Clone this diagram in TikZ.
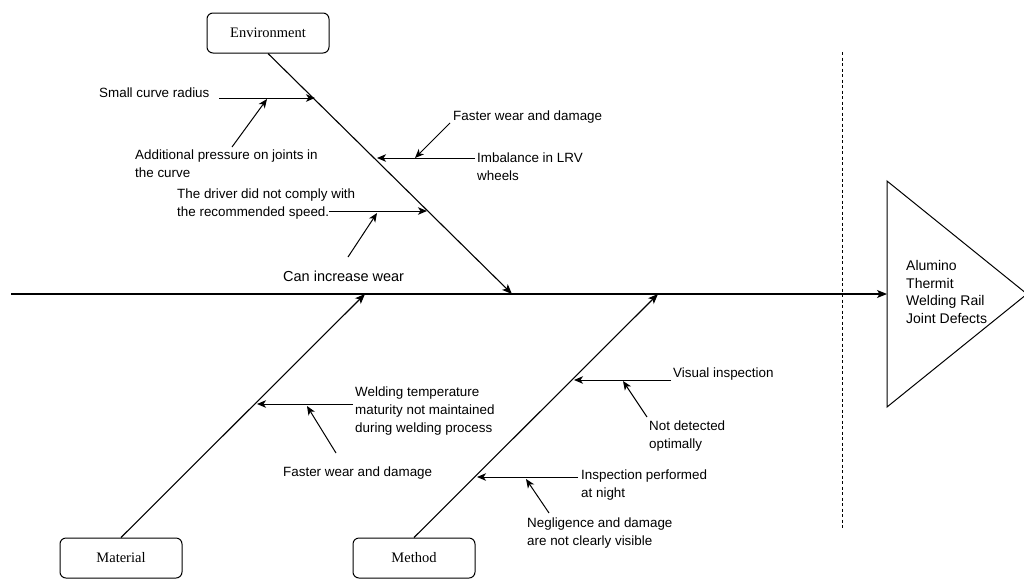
\documentclass[tikz,border=0pt]{standalone}
\usepackage{fontspec}
\setmainfont{Liberation Sans}
\newfontfamily\boxfont{Liberation Serif}
\usetikzlibrary{arrows.meta}
\tikzset{
  catbox/.style={draw, line width=1pt, rounded corners=6pt, minimum width=122pt, minimum height=40pt,
    inner sep=0pt, font=\boxfont\fontsize{14.5}{17}\selectfont},
  cause/.style={anchor=west, align=left, inner sep=0pt, font=\fontsize{13.4}{18}\selectfont},
  bone/.style={line width=1.1pt, -{Stealth[length=10pt,width=8pt,inset=2.5pt]}},
  sub/.style={line width=1pt, -{Stealth[length=9pt,width=7.5pt,inset=2.5pt]}}
}
\begin{document}
\begin{tikzpicture}[x=1pt,y=-1pt]
  \useasboundingbox (0,0) rectangle (1024,579);
  % categories
  \node[catbox] (environment) at (268,33) {Environment};
  \node[catbox] (material) at (121,558) {Material};
  \node[catbox] (method) at (414,558) {Method};
  % head of the fish
  \coordinate (tail) at (11,294);
  \coordinate (headtop) at (887,181);
  \coordinate (headtip) at (1027,294);
  \coordinate (headbot) at (887,407);
  \coordinate (head) at (887,294);
  \draw[line width=1pt] (headtop) -- (headtip) -- (headbot) -- cycle;
  \node[cause, font=\fontsize{14}{17.5}\selectfont] (effect) at (906,292)
    {Alumino\\Thermit\\Welding Rail\\Joint Defects};
  \coordinate (sepup) at (842,52);
  \coordinate (sepdown) at (842,528);
  \draw[line width=1pt, dash pattern=on 3pt off 2.5pt] (sepup) -- (sepdown);
  \draw[bone] (tail) -- (head);
  % main bones
  \coordinate (envtip) at (512,294);
  \coordinate (mattip) at (365,294);
  \coordinate (mettip) at (658,294);
  \draw[bone] (environment.south) -- (envtip);
  \draw[bone] (material.north) -- (mattip);
  \draw[bone] (method.north) -- (mettip);
  % environment
  \node[cause] (smallcurve) at (99,93) {Small curve radius};
  \coordinate (smallcurve-a) at (219,98);
  \coordinate (smallcurve-b) at (315,98);
  \coordinate (smallcurve-m) at (267,99);
  \draw[sub] (smallcurve-a) -- (smallcurve-b);
  \node[cause] (pressure) at (135,164) {Additional pressure on joints in\\the curve};
  \coordinate (pressure-a) at (232,147);
  \draw[sub] (pressure-a) -- (smallcurve-m);
  \node[cause] (imbalance) at (477,166.5) {Imbalance in LRV\\wheels};
  \coordinate (imbalance-a) at (475,158);
  \coordinate (imbalance-b) at (377,158);
  \coordinate (imbalance-m) at (415,158);
  \draw[sub] (imbalance-a) -- (imbalance-b);
  \node[cause] (fastertop) at (453,117) {Faster wear and damage};
  \coordinate (fastertop-a) at (450,123);
  \draw[sub] (fastertop-a) -- (imbalance-m);
  \node[cause] (driver) at (177,204) {The driver did not comply with\\the recommended speed.};
  \coordinate (driver-a) at (329,211);
  \coordinate (driver-b) at (427,211);
  \coordinate (driver-m) at (377,213);
  \draw[sub] (driver-a) -- (driver-b);
  \node[cause, font=\fontsize{14.5}{18}\selectfont] (wear) at (283,276) {Can increase wear};
  \coordinate (wear-a) at (348,257);
  \draw[sub] (wear-a) -- (driver-m);
  % material
  \node[cause] (welding) at (355,411)
    {Welding temperature\\maturity not maintained\\during welding process};
  \coordinate (welding-a) at (353,404);
  \coordinate (welding-b) at (257,404);
  \coordinate (welding-m) at (307,406);
  \draw[sub] (welding-a) -- (welding-b);
  \node[cause] (fasterbot) at (283,473) {Faster wear and damage};
  \coordinate (fasterbot-a) at (336,453);
  \draw[sub] (fasterbot-a) -- (welding-m);
  % method
  \node[cause] (visual) at (673,374) {Visual inspection};
  \coordinate (visual-a) at (671,380);
  \coordinate (visual-b) at (574,380);
  \coordinate (visual-m) at (623,381);
  \draw[sub] (visual-a) -- (visual-b);
  \node[cause] (notdetected) at (649,436) {Not detected\\optimally};
  \coordinate (notdetected-a) at (647,417);
  \draw[sub] (notdetected-a) -- (visual-m);
  \node[cause] (night) at (581,485) {Inspection performed\\at night};
  \coordinate (night-a) at (578,477);
  \coordinate (night-b) at (477,477);
  \coordinate (night-m) at (526,479);
  \draw[sub] (night-a) -- (night-b);
  \node[cause] (negligence) at (527,533.5) {Negligence and damage\\are not clearly visible};
  \coordinate (negligence-a) at (549,513);
  \draw[sub] (negligence-a) -- (night-m);
\end{tikzpicture}
\end{document}
